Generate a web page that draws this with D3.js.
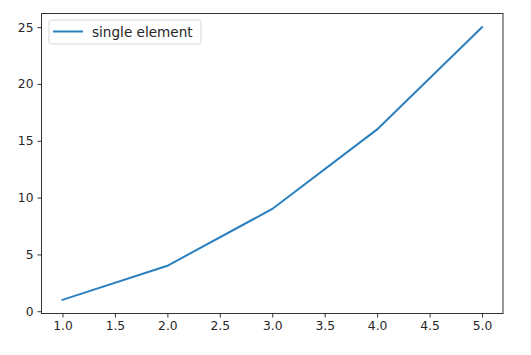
<!DOCTYPE html>
<html>
<head>
<meta charset="utf-8">
<script src="https://cdn.jsdelivr.net/npm/d3@7"></script>
<style>
  body { margin: 0; background: #fff; }
  text { font-family: "DejaVu Sans", sans-serif; fill: #262626; }
</style>
</head>
<body>
<div id="chart"></div>
<script>
// data
var xValues = [1, 2, 3, 4, 5];
var yValues = [1, 4, 9, 16, 25];
var seriesName = "single element";
var xTicks = [1.0, 1.5, 2.0, 2.5, 3.0, 3.5, 4.0, 4.5, 5.0];
var yTicks = [0, 5, 10, 15, 20, 25];

var W = 531, H = 355;
var margin = { top: 13.5, right: 28, bottom: 41.5, left: 41.5 },
    width = W - margin.left - margin.right,
    height = H - margin.top - margin.bottom;

var svg = d3.select("#chart").append("svg")
    .attr("width", W)
    .attr("height", H);

var g = svg.append("g")
    .attr("transform", "translate(" + margin.left + "," + margin.top + ")");

var x = d3.scaleLinear().domain([0.8, 5.2]).range([0, width]);
var y = d3.scaleLinear().domain([-0.2, 26.2]).range([height, 0]);

var xAxis = d3.axisBottom(x).tickValues(xTicks).tickFormat(d3.format(".1f"))
    .tickSize(4).tickPadding(4);
var yAxis = d3.axisLeft(y).tickValues(yTicks).tickFormat(d3.format("d"))
    .tickSize(4).tickPadding(4);

var line = d3.line()
    .x(function (d, i) { return x(xValues[i]); })
    .y(function (d) { return y(d); });

g.append("path")
    .datum(yValues)
    .attr("d", line)
    .attr("fill", "none")
    .attr("stroke", "#2a7fbf")
    .attr("stroke-width", 2)
    .attr("stroke-linecap", "square");

var gx = g.append("g")
    .attr("transform", "translate(0," + height + ")")
    .call(xAxis);
var gy = g.append("g").call(yAxis);

[gx, gy].forEach(function (a) {
    a.select(".domain").remove();
    a.selectAll(".tick line").attr("stroke", "#333").attr("stroke-width", 1);
    a.selectAll(".tick text").style("font-size", "12.3px").attr("fill", "#262626");
});

// frame
g.append("rect")
    .attr("width", width)
    .attr("height", height)
    .attr("fill", "none")
    .attr("stroke", "#333")
    .attr("stroke-width", 1);

// legend
var legend = g.append("g").attr("transform", "translate(7.5,6.5)");
legend.append("rect")
    .attr("width", 152)
    .attr("height", 24)
    .attr("rx", 2.5)
    .attr("fill", "#fff")
    .attr("fill-opacity", 0.8)
    .attr("stroke", "#d6d6d6")
    .attr("stroke-width", 1);
legend.append("line")
    .attr("x1", 4).attr("x2", 34)
    .attr("y1", 11.5).attr("y2", 11.5)
    .attr("stroke", "#2a7fbf")
    .attr("stroke-width", 2);
legend.append("text")
    .attr("x", 43)
    .attr("y", 12)
    .attr("dy", "0.35em")
    .style("font-size", "13.6px")
    .text(seriesName);
</script>
</body>
</html>
